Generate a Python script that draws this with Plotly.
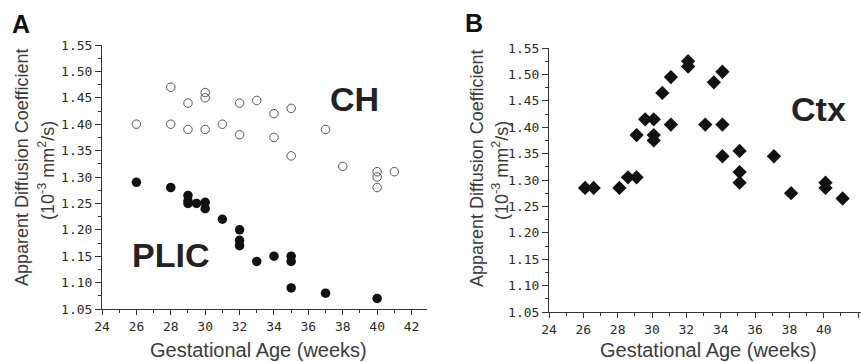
import plotly.graph_objects as go

# ---- data ----
ch_age = [26, 28, 28, 29, 29, 30, 30, 30, 31, 32, 32, 33, 34, 34, 35, 35, 37, 38, 40, 40, 40, 41]
ch_adc = [1.40, 1.47, 1.40, 1.44, 1.39, 1.46, 1.45, 1.39, 1.40, 1.44, 1.38, 1.445, 1.42, 1.375,
          1.43, 1.34, 1.39, 1.32, 1.31, 1.30, 1.28, 1.31]

plic_age = [26, 28, 29, 29, 29, 29.5, 30, 30, 31, 32, 32, 32, 33, 34, 35, 35, 35, 37, 40]
plic_adc = [1.29, 1.28, 1.265, 1.255, 1.25, 1.25, 1.252, 1.24, 1.22, 1.20, 1.18, 1.17, 1.14,
            1.15, 1.15, 1.14, 1.09, 1.08, 1.07]

ctx_age = [26.1, 26.6, 28.1, 28.6, 29.1, 29.1, 29.6, 30.1, 30.1, 30.1, 30.6, 31.1, 31.1, 32.1,
           32.1, 33.1, 33.6, 34.1, 34.1, 34.1, 35.1, 35.1, 35.1, 37.1, 38.1, 40.1, 40.1, 41.1]
ctx_adc = [1.285, 1.285, 1.285, 1.305, 1.305, 1.385, 1.415, 1.415, 1.385, 1.375, 1.465, 1.495,
           1.405, 1.525, 1.515, 1.405, 1.485, 1.505, 1.405, 1.345, 1.355, 1.315, 1.295, 1.345,
           1.275, 1.295, 1.285, 1.265]

x_ticks = [24, 26, 28, 30, 32, 34, 36, 38, 40, 42]
y_ticks = [1.05, 1.10, 1.15, 1.20, 1.25, 1.30, 1.35, 1.40, 1.45, 1.50, 1.55]
y_tick_text = ["%.2f" % v for v in y_ticks]

W, H = 861, 362

fig = go.Figure()
fig.add_trace(go.Scatter(x=ch_age, y=ch_adc, mode="markers", xaxis="x", yaxis="y",
                         marker=dict(symbol="circle-open", size=8.5, color="#555555",
                                     line=dict(width=1, color="#555555"))))
fig.add_trace(go.Scatter(x=plic_age, y=plic_adc, mode="markers", xaxis="x", yaxis="y",
                         marker=dict(symbol="circle", size=9.5, color="#111111")))
fig.add_trace(go.Scatter(x=ctx_age, y=ctx_adc, mode="markers", xaxis="x2", yaxis="y2",
                         marker=dict(symbol="diamond", size=11, color="#111111")))

tickfont = dict(family="DejaVu Sans Mono", size=13, color="#2a2a2a")
common_x = dict(tickvals=x_ticks, ticks="outside", ticklen=5, tickwidth=1, tickcolor="#333",
                showline=True, linecolor="#333", linewidth=1, showgrid=False, zeroline=False,
                tickfont=tickfont,
                minor=dict(dtick=1, ticks="outside", ticklen=3, tickcolor="#333", showgrid=False))
common_y = dict(tickvals=y_ticks, ticktext=y_tick_text, ticks="outside", ticklen=6, tickwidth=1,
                tickcolor="#333", showline=True, linecolor="#333", linewidth=1, showgrid=False,
                zeroline=False, tickfont=tickfont, range=[1.05, 1.55],
                minor=dict(dtick=0.025, tick0=1.05, ticks="outside", ticklen=3, tickcolor="#333",
                           showgrid=False))

fig.update_layout(
    width=W, height=H, margin=dict(l=0, r=0, t=0, b=0, pad=0, autoexpand=False),
    paper_bgcolor="white", plot_bgcolor="white", showlegend=False,
    xaxis=dict(domain=[102 / W, 427 / W], range=[24, 42.9], anchor="y", **common_x),
    yaxis=dict(domain=[(H - 309) / H, (H - 45) / H], anchor="x", **common_y),
    xaxis2=dict(domain=[549 / W, 1.0], range=[24, 42.17], anchor="y2", **common_x),
    yaxis2=dict(domain=[(H - 312) / H, (H - 48) / H], anchor="x2", **common_y),
)

title_font = dict(family="Liberation Sans, Arial", size=18, color="#3c3c3c")
xtitle_font = dict(family="Liberation Sans, Arial", size=20, color="#3c3c3c")
big = dict(family="Liberation Sans, Arial", size=34, color="#222222")
panel = dict(family="Liberation Sans, Arial", size=25, color="#111111")

def ann(text, x, y, font, angle=0):
    fig.add_annotation(text=text, x=x / W, y=1 - y / H, xref="paper", yref="paper",
                       showarrow=False, font=font, textangle=angle,
                       xanchor="center", yanchor="middle")

ann("<b>A</b>", 21, 24, panel)
ann("<b>B</b>", 474, 23, panel)
ann("<b>CH</b>", 354, 99, big)
ann("<b>PLIC</b>", 170, 255, big)
ann("<b>Ctx</b>", 818, 109, big)

ann("Apparent Diffusion Coefficient", 22, 168, title_font, -90)
ann("(10<sup>-3</sup> mm<sup>2</sup>/s)", 47, 171, title_font, -90)
ann("Apparent Diffusion Coefficient", 477, 169, title_font, -90)
ann("(10<sup>-3</sup> mm<sup>2</sup>/s)", 501, 171, title_font, -90)

ann("Gestational Age (weeks)", 258, 350, xtitle_font)
ann("Gestational Age (weeks)", 708, 350, xtitle_font)

fig.write_html("out.html", config={"displayModeBar": False},
               post_script="document.body.style.margin='0';document.body.style.overflow='hidden';")
